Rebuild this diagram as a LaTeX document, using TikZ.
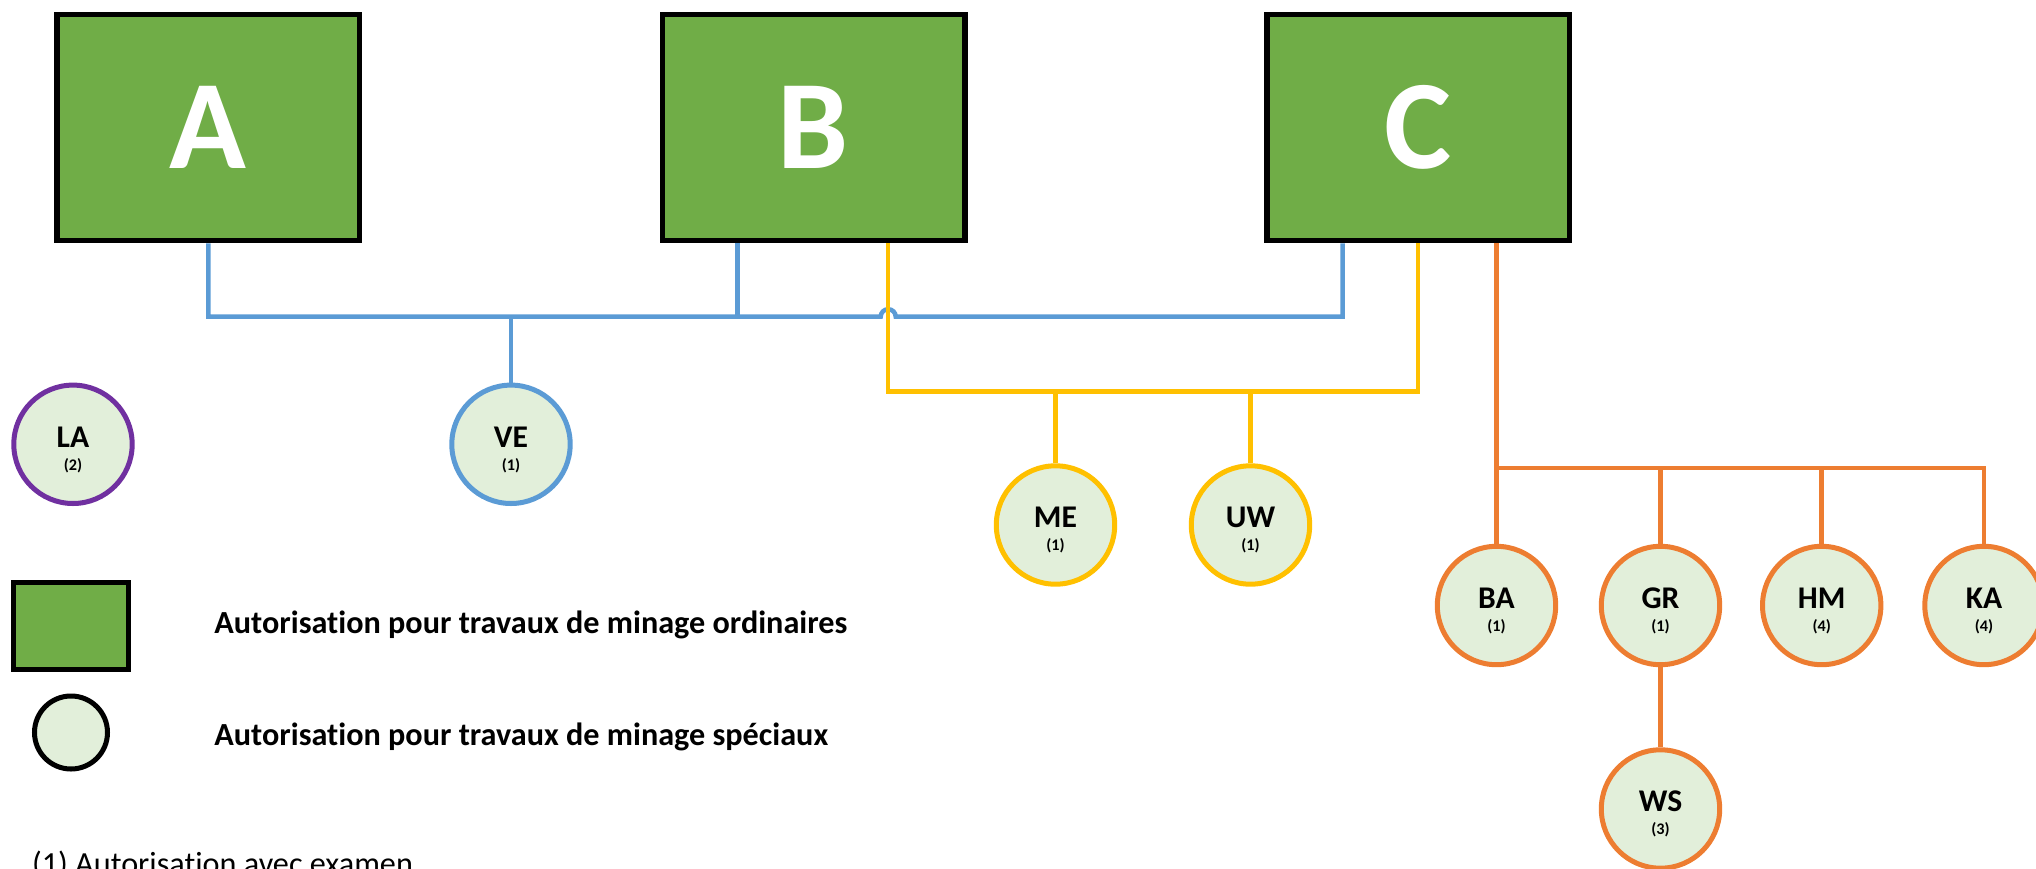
\documentclass[tikz,border=0pt]{standalone}
\usepackage{fontspec}
\setmainfont{Carlito}[Ligatures=NoCommon]
\definecolor{boxgreen}{HTML}{70AD47}
\definecolor{circfill}{HTML}{E2EFDA}
\definecolor{lnblue}{HTML}{5B9BD5}
\definecolor{lnyellow}{HTML}{FFC000}
\definecolor{lnorange}{HTML}{ED7D31}
\definecolor{lnpurple}{HTML}{7030A0}
\begin{document}
\begin{tikzpicture}[x=0.5pt,y=-0.5pt,
  bigbox/.style={draw=black, line width=2.75pt, fill=boxgreen, minimum width=151.25pt, minimum height=113pt, inner sep=0pt, text=white, font=\fontsize{63.4}{70}\selectfont\bfseries},
  circ/.style={circle, draw=#1, line width=2.5pt, fill=circfill, minimum size=59.2pt, inner sep=0pt, font=\fontsize{15.8}{18}\selectfont\bfseries, text height=6pt, text depth=3.3pt},
  num/.style={font=\fontsize{8.1}{9}\selectfont\bfseries, inner sep=0pt, yshift=-10.5pt},
  conn/.style={draw=#1, line width=2.25pt},
  legtext/.style={anchor=base west, inner sep=0pt, font=\fontsize{16.1}{18}\selectfont\bfseries},
  foottext/.style={anchor=base west, inner sep=0pt, font=\fontsize{16.1}{18}\selectfont}
]
\useasboundingbox (0,0) rectangle (2036,868);

% main boxes
\node[bigbox] (A) at (208.3,127.5) {A};
\node[bigbox] (B) at (813.5,127.5) {B};
\node[bigbox] (C) at (1418,127.5) {C};

% circles
\node[circ=lnpurple, label={[num]center:(2)}] (LA) at (73,444.3) {LA};
\node[circ=lnblue,   label={[num]center:(1)}] (VE) at (511,444.3) {VE};
\node[circ=lnyellow, label={[num]center:(1)}] (ME) at (1055.5,525) {ME};
\node[circ=lnyellow, label={[num]center:(1)}] (UW) at (1250.5,525) {UW};
\node[circ=lnorange, label={[num]center:(1)}] (BA) at (1496.5,605.5) {BA};
\node[circ=lnorange, label={[num]center:(1)}] (GR) at (1660.5,605.5) {GR};
\node[circ=lnorange, label={[num]center:(4)}] (HM) at (1821.7,605.5) {HM};
\node[circ=lnorange, label={[num]center:(4)}] (KA) at (1984,605.5) {KA};
\node[circ=lnorange, label={[num]center:(3)}] (WS) at (1660.5,809) {WS};

% bus levels and drop points
\coordinate (blueY) at (0,316.7);
\coordinate (yelY) at (0,391.7);
\coordinate (orY) at (0,468);
\coordinate (bB) at ([xshift=-38pt]B.south);
\coordinate (bC) at ([xshift=-37.7pt]C.south);
\coordinate (yB) at ([xshift=37.35pt]B.south);
\coordinate (oC) at ([xshift=39.25pt]C.south);

% blue connectors
\draw[conn=lnblue] (A.south) -- (A.south |- blueY) -- ([xshift=-3.75pt]yB |- blueY)
  arc[start angle=180, end angle=0, radius=3.75pt] -- (bC |- blueY) -- (bC);
\draw[conn=lnblue] (bB) -- (bB |- blueY);
\draw[conn=lnblue] (VE.north) -- (VE.north |- blueY);

% yellow connectors
\draw[conn=lnyellow] (yB) -- (yB |- yelY) -- (C.south |- yelY) -- (C.south);
\draw[conn=lnyellow] (ME.north) -- (ME.north |- yelY);
\draw[conn=lnyellow] (UW.north) -- (UW.north |- yelY);

% orange connectors
\draw[conn=lnorange] (oC) -- (BA.north);
\draw[conn=lnorange] (oC |- orY) -- (KA.north |- orY) -- (KA.north);
\draw[conn=lnorange] (GR.north) -- (GR.north |- orY);
\draw[conn=lnorange] (HM.north) -- (HM.north |- orY);
\draw[conn=lnorange] (GR.south) -- (WS.north);

% legend
\node[draw=black, line width=2.5pt, fill=boxgreen, minimum width=57.5pt, minimum height=43.5pt, inner sep=0pt] (legbox) at (71.3,626) {};
\node[circle, draw=black, line width=2.5pt, fill=circfill, minimum size=36.5pt, inner sep=0pt] (legcirc) at (71,732.5) {};
\node[legtext] (legt1) at (214,633.3) {Autorisation pour travaux de minage ordinaires};
\node[legtext] (legt2) at (214,745.3) {Autorisation pour travaux de minage spéciaux};
\node[foottext] (foot) at (31.7,874) {(1) Autorisation avec examen};
\end{tikzpicture}
\end{document}
